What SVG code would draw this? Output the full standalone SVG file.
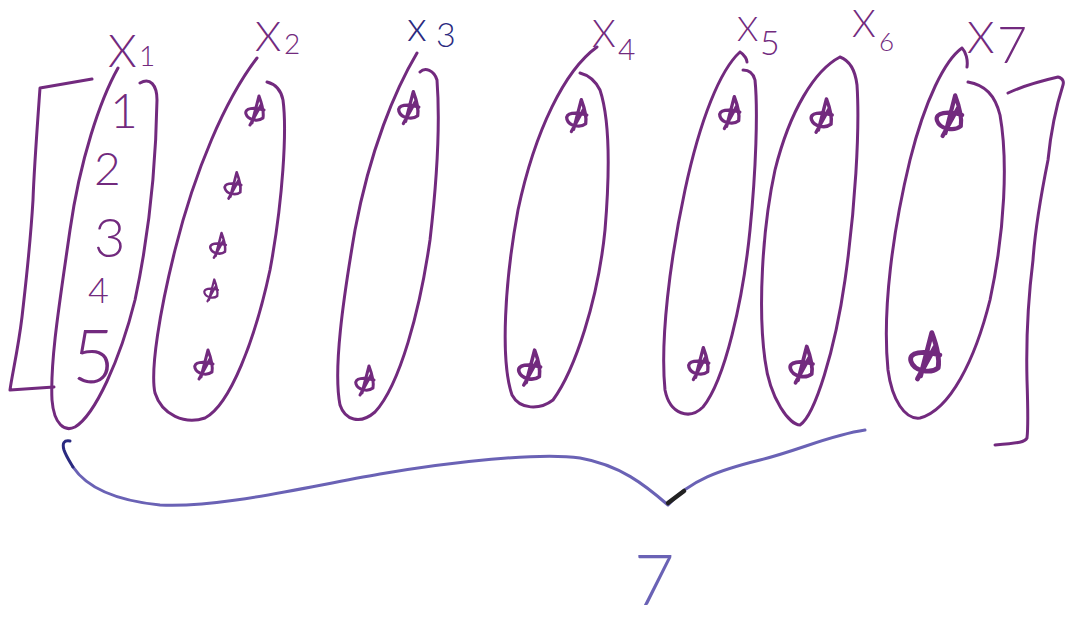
<svg xmlns="http://www.w3.org/2000/svg" xmlns:xlink="http://www.w3.org/1999/xlink" width="1065" height="623" viewBox="0 0 1065 623">
<style>
.ln{fill:none;stroke:#722a7e;stroke-width:3;stroke-linecap:round;stroke-linejoin:round}
.br{fill:none;stroke:#6a62b5;stroke-width:3;stroke-linecap:round;stroke-linejoin:round}
.lb{font-family:Lato,"Liberation Sans",sans-serif;font-weight:300;fill:#722a7e}
.nm{font-family:Lato,"Liberation Sans",sans-serif;font-weight:300;fill:#722a7e}
.blue{fill:#2b2a80}
</style>
<defs>
<path id="mk" class="ln" d="M-4,13 L3,-14 C6,-6 8,2 7,8 C2,12 -8,10 -10,4 C-12,-2 -2,-3 8,0 M-6,15 L5,-5"/>
</defs>
<rect width="1065" height="623" fill="#fff"/>

<g id="brackets">
<path class="ln" d="M92,79 L40,88 C37,130 34,170 33,200 C30,250 25,290 22,317 C18,350 12,375 10,390 L54,387"/>
<path class="ln" d="M1008,93 C1025,85 1045,80 1058,77 C1063,78 1064,82 1063,85 C1055,110 1050,140 1048,160 C1040,200 1035,230 1033,260 C1028,300 1026,340 1027,380 C1028,410 1028,430 1027,438 C1025,442 1020,443 995,445"/>
</g>

<g id="x1">
<path class="ln" d="M118,68 C100,100 80,160 70,230 C60,300 50,360 52,400 C54,425 65,432 75,427 C95,415 120,360 135,300 C150,230 156,160 157,100 C157,85 150,77 140,83"/>
<text class="lb" x="108" y="67" font-size="46">X</text>
<text class="lb" x="139" y="66" font-size="28">1</text>
<text class="nm" x="110" y="128" font-size="48">1</text>
<text class="nm" x="94" y="185" font-size="46">2</text>
<text class="nm" x="94" y="257" font-size="54">3</text>
<text class="nm" x="88" y="303" font-size="36">4</text>
<text class="nm" x="72" y="383" font-size="74">5</text>
</g>

<g id="x2">
<path class="ln" d="M257,58 C225,100 195,170 175,250 C160,310 150,370 155,393 C162,415 185,425 205,418 C230,405 255,340 270,270 C283,200 287,130 283,100 C281,90 275,84 267,82"/>
<text class="lb" x="255" y="51" font-size="42">X</text>
<text class="lb" x="284" y="54" font-size="28">2</text>
<use xlink:href="#mk" transform="translate(256,110)"/>
<use xlink:href="#mk" transform="translate(234,185) scale(0.9)"/>
<use xlink:href="#mk" transform="translate(219,245) scale(0.85)"/>
<use xlink:href="#mk" transform="translate(212,290) scale(0.75)"/>
<use xlink:href="#mk" transform="translate(205,364) scale(1)"/>
</g>

<g id="x3">
<path class="ln" d="M417,53 C395,90 370,150 355,230 C343,300 333,370 340,405 C345,420 360,425 375,412 C400,385 420,310 430,240 C437,180 440,120 437,80 C434,70 425,67 420,72"/>
<text class="lb blue" x="407" y="41" font-size="42">x</text>
<text class="lb blue" x="436" y="47" font-size="34">3</text>
<use xlink:href="#mk" transform="translate(410,107) scale(1.1)"/>
<use xlink:href="#mk" transform="translate(366,380) scale(1)"/>
</g>

<g id="x4">
<path class="ln" d="M597,47 C565,70 535,130 518,210 C505,280 500,360 512,395 C520,410 540,410 553,400 C575,370 598,300 605,230 C610,170 610,120 600,90 C595,80 588,75 580,73"/>
<text class="lb" x="592" y="47" font-size="38">X</text>
<text class="lb" x="618" y="60" font-size="30">4</text>
<use xlink:href="#mk" transform="translate(578,115) scale(1.1)"/>
<use xlink:href="#mk" transform="translate(531,367) scale(1.2)"/>
</g>

<g id="x5">
<path class="ln" d="M740,52 C720,70 700,120 685,190 C670,260 660,340 665,390 C670,415 690,420 703,407 C725,380 743,300 750,230 C756,170 758,110 755,80 C753,72 748,70 743,70 M740,52 C745,55 747,60 747,62"/>
<text class="lb" x="737" y="41" font-size="34">X</text>
<text class="lb" x="760" y="55" font-size="34">5</text>
<use xlink:href="#mk" transform="translate(731,112) scale(1.1)"/>
<use xlink:href="#mk" transform="translate(700,363) scale(1.1)"/>
</g>

<g id="x6">
<path class="ln" d="M840,57 C815,70 790,110 775,170 C762,230 758,310 765,360 C770,400 790,425 800,425 C815,415 835,350 845,280 C855,210 860,130 857,85 C855,68 848,60 840,57"/>
<text class="lb" x="852" y="37" font-size="38">X</text>
<text class="lb" x="879" y="51" font-size="26">6</text>
<use xlink:href="#mk" transform="translate(823,115) scale(1.15)"/>
<use xlink:href="#mk" transform="translate(803,364) scale(1.25)"/>
</g>

<g id="x7">
<path class="ln" d="M962,48 C945,60 925,100 910,160 C893,230 882,310 888,370 C892,400 905,420 920,418 C950,410 975,360 990,300 C1005,230 1008,160 1000,115 C995,95 985,85 968,82 M962,48 C966,52 968,60 967,67"/>
<text class="lb" x="967" y="53" font-size="44">X</text>
<text class="lb" x="997" y="63" font-size="52">7</text>
<use xlink:href="#mk" transform="translate(951,115) scale(1.4)"/>
<use xlink:href="#mk" transform="translate(927,355) scale(1.6)"/>
</g>

<g id="connectors">
<path class="br" d="M73,467 C85,485 110,500 160,505 C220,508 300,488 380,474 C450,462 540,452 580,458 C620,465 645,485 668,505 M668,505 C690,480 720,470 760,460 C800,450 830,435 865,430"/>
<path fill="none" stroke="#2b2a80" stroke-width="3" stroke-linecap="round" d="M70,441 C64,440 62,443 64,450 C66,456 70,462 73,467"/>
<path fill="none" stroke="#222" stroke-width="4.5" stroke-linecap="round" d="M668,503 L684,491"/>
</g>

<g id="total">
<text x="634" y="605" font-family="Lato,'Liberation Sans',sans-serif" font-weight="300" font-size="70" fill="#6a62b5">7</text>
</g>
</svg>
